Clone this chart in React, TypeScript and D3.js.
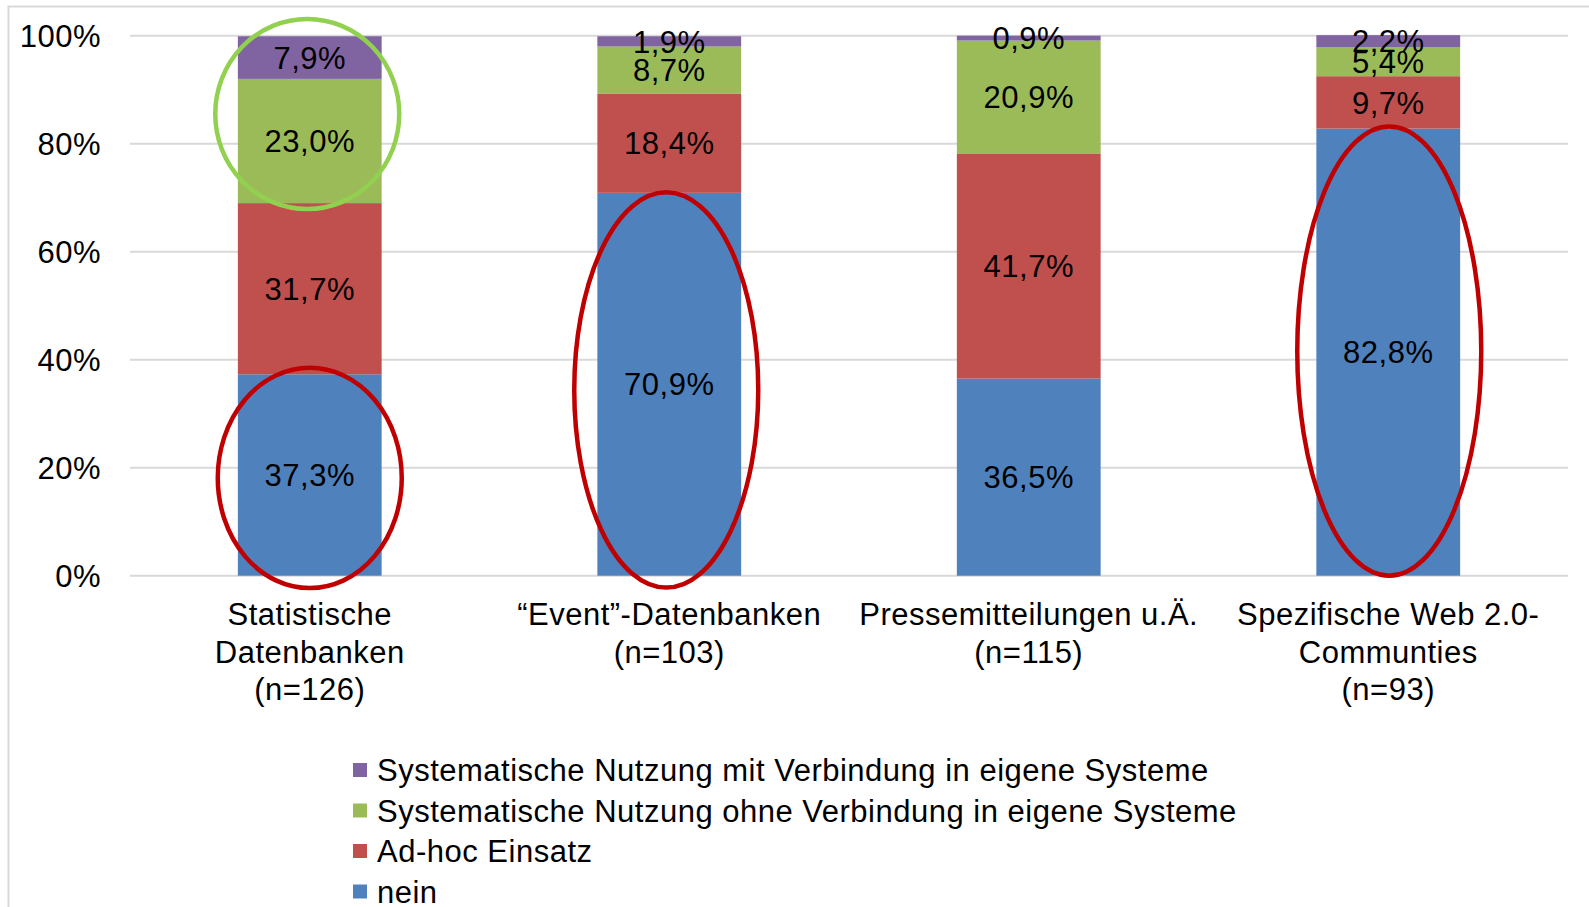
import React, { useEffect, useRef } from 'react';
import * as d3 from 'd3';

// categories (multi-line labels)
const categories = [
  ['Statistische', 'Datenbanken', '(n=126)'],
  ['\u201CEvent\u201D-Datenbanken', '(n=103)'],
  ['Pressemitteilungen u.\u00C4.', '(n=115)'],
  ['Spezifische Web 2.0-', 'Communties', '(n=93)'],
];
const categoryKeys = ['stat', 'event', 'presse', 'web20'];

const seriesNames = [
  'nein',
  'Ad-hoc Einsatz',
  'Systematische Nutzung ohne Verbindung in eigene Systeme',
  'Systematische Nutzung mit Verbindung in eigene Systeme',
];
const seriesColors = ['#4F81BD', '#C0504D', '#9BBB59', '#8064A2'];

// values per series, in category order
const nein = [37.3, 70.9, 36.5, 82.8];
const adhoc = [31.7, 18.4, 41.7, 9.7];
const ohneVerbindung = [23.0, 8.7, 20.9, 5.4];
const mitVerbindung = [7.9, 1.9, 0.9, 2.2];

const yTicks = [0, 20, 40, 60, 80, 100];

// annotation ellipses: category, centre (%), vertical radius (%), small x nudge
const annotations = [
  { cat: 'stat', center: 85.5, radius: 17.6, dx: -2.5, color: '#92D050' },
  { cat: 'stat', center: 18.1, radius: 20.4, dx: 0, color: '#C00000' },
  { cat: 'event', center: 34.4, radius: 36.6, dx: -3, color: '#C00000' },
  { cat: 'web20', center: 41.6, radius: 41.6, dx: 1, color: '#C00000' },
];

const fmt = (v: number) => v.toFixed(1).replace('.', ',') + '%';

const App: React.FC = () => {
  const svgRef = useRef<SVGSVGElement>(null);

  useEffect(() => {
    if (!svgRef.current) return;
    const svg = d3.select(svgRef.current);
    svg.selectAll('*').remove();

    const font = 'Arial, "Liberation Sans", sans-serif';
    const fontSize = 31;
    const left = 130, right = 1568, top = 35.7, bottom = 575.7;

    svg.attr('letter-spacing', 0.5);

    // outer chart border
    svg.append('rect')
      .attr('x', 8.5).attr('y', 6.5)
      .attr('width', 1700).attr('height', 1000)
      .attr('fill', 'white')
      .attr('stroke', '#D9D9D9')
      .attr('stroke-width', 2);

    const x = d3.scaleBand<string>()
      .domain(categoryKeys)
      .range([left, right])
      .paddingInner(0.6)
      .paddingOuter(0.3);

    const y = d3.scaleLinear().domain([0, 100]).range([bottom, top]);

    // gridlines
    svg.append('g')
      .selectAll('line')
      .data(yTicks)
      .join('line')
        .attr('x1', left).attr('x2', right)
        .attr('y1', d => y(d)).attr('y2', d => y(d))
        .attr('stroke', '#D9D9D9')
        .attr('stroke-width', 2);

    // y tick labels
    svg.append('g')
      .selectAll('text')
      .data(yTicks)
      .join('text')
        .attr('x', 101)
        .attr('y', d => y(d))
        .attr('dy', '0.36em')
        .attr('text-anchor', 'end')
        .attr('font-family', font)
        .attr('font-size', fontSize)
        .text(d => d + '%');

    const table = categoryKeys.map((k, i) => ({
      key: k,
      s0: nein[i], s1: adhoc[i], s2: ohneVerbindung[i], s3: mitVerbindung[i],
    }));
    const stacked = d3.stack<any>().keys(['s0', 's1', 's2', 's3'])(table);

    const layers = svg.append('g')
      .selectAll('g')
      .data(stacked)
      .join('g')
        .attr('fill', (_, i) => seriesColors[i]);

    layers.selectAll('rect')
      .data(d => d)
      .join('rect')
        .attr('x', d => x(d.data.key)!)
        .attr('width', x.bandwidth())
        .attr('y', d => y(d[1]))
        .attr('height', d => y(d[0]) - y(d[1]));

    // data labels
    const labels = svg.append('g')
      .attr('font-family', font)
      .attr('font-size', fontSize)
      .attr('text-anchor', 'middle');
    stacked.forEach(layer => {
      layer.forEach(d => {
        labels.append('text')
          .attr('x', x(d.data.key)! + x.bandwidth() / 2)
          .attr('y', y((d[0] + d[1]) / 2))
          .attr('dy', '0.36em')
          .text(fmt(d[1] - d[0]));
      });
    });

    // category labels
    const catG = svg.append('g')
      .attr('font-family', font)
      .attr('font-size', fontSize)
      .attr('text-anchor', 'middle');
    categories.forEach((lines, i) => {
      const cx = x(categoryKeys[i])! + x.bandwidth() / 2;
      const t = catG.append('text').attr('x', cx).attr('y', 625);
      lines.forEach((line, j) => {
        t.append('tspan')
          .attr('x', cx)
          .attr('dy', j === 0 ? 0 : 37.5)
          .text(line);
      });
    });

    // annotation ellipses
    svg.append('g')
      .selectAll('ellipse')
      .data(annotations)
      .join('ellipse')
        .attr('cx', d => x(d.cat)! + x.bandwidth() / 2 + d.dx)
        .attr('cy', d => y(d.center))
        .attr('rx', 92)
        .attr('ry', d => y(0) - y(d.radius))
        .attr('fill', 'none')
        .attr('stroke', d => d.color)
        .attr('stroke-width', 4.5);

    // legend (top to bottom: reverse series order)
    const legendOrder = [3, 2, 1, 0];
    const legend = svg.append('g')
      .attr('font-family', font)
      .attr('font-size', fontSize)
      .selectAll('g')
      .data(legendOrder)
      .join('g')
        .attr('transform', (_, i) => `translate(353,${770 + i * 40.5})`);

    legend.append('rect')
      .attr('x', 0).attr('y', -7)
      .attr('width', 14).attr('height', 14)
      .attr('fill', d => seriesColors[d]);

    legend.append('text')
      .attr('x', 24)
      .attr('y', 0)
      .attr('dy', '0.36em')
      .text(d => seriesNames[d]);
  }, []);

  return (
    <svg
      ref={svgRef}
      width={1589}
      height={907}
      style={{ position: 'absolute', left: 0, top: 0, background: 'white' }}
    />
  );
};

export default App;
